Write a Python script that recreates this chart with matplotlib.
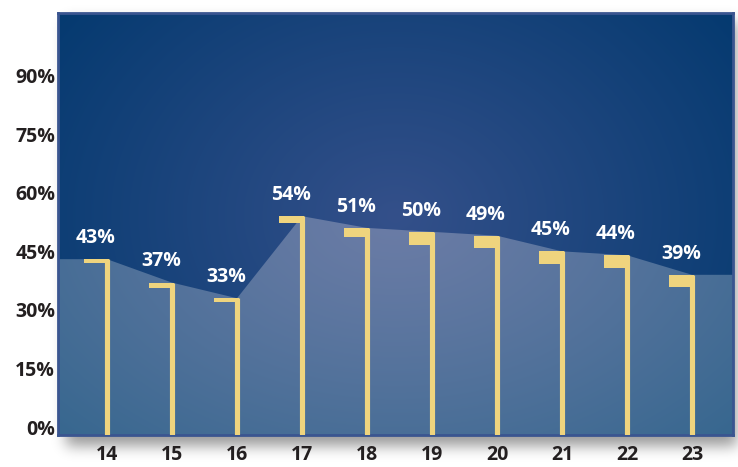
import numpy as np
import matplotlib.pyplot as plt
from matplotlib.colors import to_rgb
from matplotlib.patches import Rectangle

# ---- data ----
years = ['14', '15', '16', '17', '18', '19', '20', '21', '22', '23']
shares = [43, 37, 33, 54, 51, 50, 49, 45, 44, 39]
y_ticks = [0, 15, 30, 45, 60, 75, 90]

# ---- styling ----
flag_depth = [1.0, 1.3, 1.0, 1.8, 2.3, 3.3, 3.1, 3.3, 3.3, 3.1]   # flag thickness (in % units)
FLAG = '#efd47e'
INK = '#231f20'
FONT = ['Open Sans', 'DejaVu Sans']

W, H = 738, 467
fig = plt.figure(figsize=(W / 100, H / 100), dpi=100)
fig.patch.set_facecolor('white')

# panel box in pixels
L, R, T, B = 58, 733, 13, 435
XMIN, XMAX = -0.754, 9.63
YMIN, YMAX = -2, 106


def blur(a, s):
    r = np.arange(-3 * s, 3 * s + 1)
    k = np.exp(-0.5 * (r / s) ** 2)
    k /= k.sum()
    a = np.apply_along_axis(lambda v: np.convolve(v, k, mode='same'), 1, a)
    a = np.apply_along_axis(lambda v: np.convolve(v, k, mode='same'), 0, a)
    return a


# soft drop shadow behind the panel
sh = fig.add_axes([0, 0, 1, 1], zorder=0)
sh.set_axis_off()
yy, xx = np.mgrid[0:H, 0:W]
box = ((xx >= L + 8) & (xx <= R + 3) & (yy >= T + 8) & (yy <= B + 10)).astype(float)
alpha = blur(box, 7) * 0.40
shadow = np.zeros((H, W, 4))
shadow[..., 3] = alpha
sh.imshow(shadow, extent=[0, W, H, 0], aspect='auto', interpolation='bilinear')
sh.set_xlim(0, W)
sh.set_ylim(H, 0)

ax = fig.add_axes([L / W, 1 - B / H, (R - L) / W, (B - T) / H], zorder=1)
ax.set_xlim(XMIN, XMAX)
ax.set_ylim(YMIN, YMAX)


def radial(inner, outer, cx, cy, rx, ry, n=300, power=1.0):
    gy, gx = np.mgrid[0:1:n * 1j, 0:1:n * 1j]
    d = np.sqrt(((gx - cx) / rx) ** 2 + ((gy - cy) / ry) ** 2)
    t = np.clip(d, 0, 1) ** power
    ci, co = np.array(to_rgb(inner)), np.array(to_rgb(outer))
    return ci[None, None, :] * (1 - t[..., None]) + co[None, None, :] * t[..., None]


# panel background
bg = radial('#34508a', '#053a70', 0.50, 0.52, 0.62, 0.80, power=1.0)
ax.imshow(bg, extent=[0, 1, 0, 1], transform=ax.transAxes, origin='lower',
          aspect='auto', zorder=0, interpolation='bilinear')

# shaded area under the series
xs = np.arange(len(shares))
ax_x = np.concatenate([[XMIN], xs, [XMAX]])
ax_y = np.concatenate([[shares[0]], shares, [shares[-1]]])
poly = ax.fill_between(ax_x, ax_y, YMIN, facecolor='none', edgecolor='none', zorder=1)
area = radial('#6b7ca6', '#37678f', 0.50, 0.52, 0.70, 0.75, power=1.2)
im = ax.imshow(area, extent=[0, 1, 0, 1], transform=ax.transAxes, origin='lower',
               aspect='auto', zorder=1, interpolation='bilinear')
im.set_clip_path(poly.get_paths()[0], transform=ax.transData)

# flag markers
line_half = 0.037
flag_w = 0.39
for i, (v, d) in enumerate(zip(shares, flag_depth)):
    ax.vlines(i, YMIN, v, color=FLAG, lw=3.7, zorder=3)
    ax.add_patch(Rectangle((i + line_half - flag_w, v - d), flag_w, d,
                           facecolor=FLAG, edgecolor='none', zorder=3))
    ax.annotate(f'{v}%', (i - 0.17, v), xytext=(0, 8), textcoords='offset points',
                ha='center', va='bottom', color='white', fontsize=14,
                fontweight='bold', family=FONT, zorder=4)

ax.set_yticks(y_ticks)
ax.set_yticklabels([f'{t}%' for t in y_ticks])
ax.set_xticks(xs)
ax.set_xticklabels(years)
ax.tick_params(axis='both', length=0, labelcolor=INK, labelsize=14)
ax.tick_params(axis='y', pad=2)
ax.tick_params(axis='x', pad=7)
for lab in ax.get_xticklabels() + ax.get_yticklabels():
    lab.set_fontweight('bold')
    lab.set_family(FONT)

for sp in ax.spines.values():
    sp.set_color('#3a5590')
    sp.set_linewidth(2)

fig.savefig('out.png', dpi=100, facecolor='white')
